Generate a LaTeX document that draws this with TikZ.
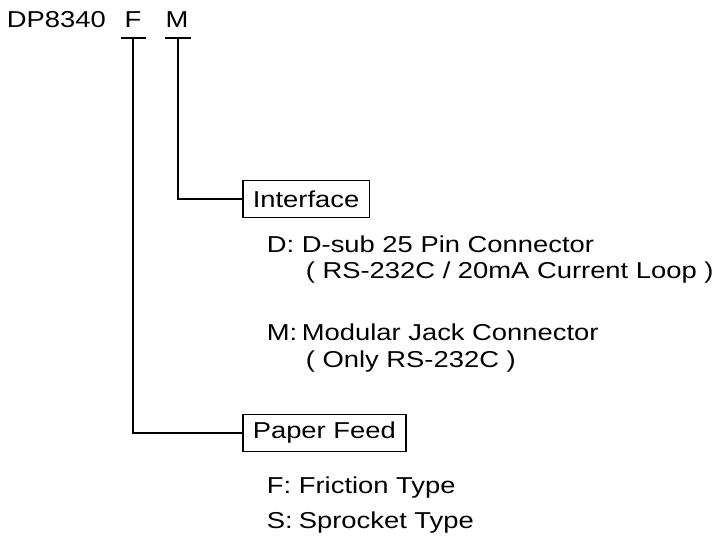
\documentclass[tikz,border=0pt]{standalone}
\usepackage{fontspec}
\setmainfont{Liberation Sans}[FakeStretch=1.19]
\begin{document}
\begin{tikzpicture}[x=1pt,y=-1pt,line width=1.8pt,
        every node/.style={font=\fontsize{23}{27}\selectfont,inner sep=0pt},
        txt/.style={anchor=base west},
        tagbox/.style={draw,line width=1.6pt,anchor=west,inner xsep=10pt,minimum height=37pt}]
    \useasboundingbox (0,0) rectangle (714,537);
    % model number
    \node[txt] (model) at (6,28) {DP8340};
    \node[anchor=base] (f) at (133,28) {F};
    \node[anchor=base] (m) at (177,28) {M};
    \coordinate (fbar) at (133,38);
    \coordinate (mbar) at (178,38);
    \draw ([xshift=-12pt]fbar) -- ([xshift=13pt]fbar);
    \draw ([xshift=-13pt]mbar) -- ([xshift=13pt]mbar);
    % interface
    \begin{scope}
        \node[tagbox] (iface) at (242,199) {Interface};
        \draw (mbar) |- (iface.west);
        \node[txt] (dkey) at (266,252) {D:};
        \node[txt] (dtxt) at (301,252) {D-sub 25 Pin Connector};
        \node[txt] (dnote) at (305,278) {( RS-232C / 20mA Current Loop )};
        \node[txt] (mkey) at (266,340) {M:};
        \node[txt] (mtxt) at (301,340) {Modular Jack Connector};
        \node[txt] (mnote) at (305,367) {( Only RS-232C )};
    \end{scope}
    % paper feed
    \begin{scope}
        \node[tagbox] (feed) at (242,433) {Paper Feed};
        \draw (fbar) |- (feed.west);
        \node[txt] (fkey) at (266,493) {F:};
        \node[txt] (ftxt) at (298,493) {Friction Type};
        \node[txt] (skey) at (266,528) {S:};
        \node[txt] (stxt) at (298,528) {Sprocket Type};
    \end{scope}
\end{tikzpicture}
\end{document}
